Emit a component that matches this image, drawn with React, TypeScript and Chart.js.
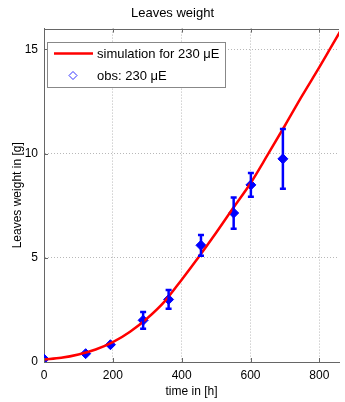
import React, { useEffect, useRef } from "react";
import { Chart, registerables } from "chart.js";

Chart.register(...registerables);

const simX = [0, 50, 100, 150, 200, 250, 300, 350, 400, 450, 500, 550, 600, 650, 700, 750, 800, 830, 860];
const simY = [0.12, 0.2, 0.36, 0.6, 0.95, 1.45, 2.1, 2.9, 3.95, 5.05, 6.2, 7.4, 8.58, 9.95, 11.35, 12.78, 14.15, 15.0, 15.85];

const obsX = [0, 121, 193, 288, 362, 456, 551, 601, 694];
const obsY = [0.14, 0.4, 0.83, 2.0, 3.0, 5.6, 7.15, 8.5, 9.75];
const obsErr = [0, 0, 0, 0.4, 0.45, 0.5, 0.75, 0.57, 1.43];

const xTicks = [0, 200, 400, 600, 800];
const yTicks = [0, 5, 10, 15];

const titleText = "Leaves weight";
const xTitle = "time in [h]";
const yTitle = "Leaves weight in [g]";
const legendLabels = ["simulation for 230 \u03bcE", "obs: 230 \u03bcE"];

const FONT = "'Liberation Sans', Arial, Helvetica, sans-serif";

const decorPlugin = {
  id: "decor",
  afterDatasetsDraw(chart: any) {
    const ctx = chart.ctx;
    const xs = chart.scales.x;
    const ys = chart.scales.y;
    ctx.save();
    ctx.strokeStyle = "#0000ff";
    ctx.lineWidth = 2.5;
    for (let i = 0; i < obsX.length; i++) {
      const e = obsErr[i];
      if (!e) continue;
      const px = xs.getPixelForValue(obsX[i]);
      const top = ys.getPixelForValue(obsY[i] + e);
      const bot = ys.getPixelForValue(obsY[i] - e);
      ctx.beginPath();
      ctx.moveTo(px, top);
      ctx.lineTo(px, bot);
      ctx.moveTo(px - 3, top);
      ctx.lineTo(px + 3, top);
      ctx.moveTo(px - 3, bot);
      ctx.lineTo(px + 3, bot);
      ctx.stroke();
    }
    ctx.restore();
  },
  afterDraw(chart: any) {
    const ctx = chart.ctx;
    const a = chart.chartArea;
    const xs = chart.scales.x;
    const ys = chart.scales.y;
    ctx.save();
    // top border
    ctx.strokeStyle = "#666";
    ctx.lineWidth = 1;
    ctx.beginPath();
    ctx.moveTo(a.left, Math.round(a.top) + 0.5);
    ctx.lineTo(a.right, Math.round(a.top) + 0.5);
    ctx.stroke();
    // inward ticks
    ctx.beginPath();
    for (const t of xTicks) {
      const px = Math.round(xs.getPixelForValue(t)) + 0.5;
      ctx.moveTo(px, a.bottom);
      ctx.lineTo(px, a.bottom - 4);
      ctx.moveTo(px, a.top);
      ctx.lineTo(px, a.top + 4);
    }
    for (const t of yTicks) {
      const py = Math.round(ys.getPixelForValue(t)) + 0.5;
      ctx.moveTo(a.left, py);
      ctx.lineTo(a.left + 4, py);
    }
    ctx.stroke();

    // legend
    const lx = 47, ly = 42, lw = 178, lh = 45;
    ctx.fillStyle = "#ffffff";
    ctx.fillRect(lx, ly, lw, lh);
    ctx.strokeStyle = "#888";
    ctx.lineWidth = 1;
    ctx.strokeRect(lx + 0.5, ly + 0.5, lw, lh);
    ctx.strokeStyle = "#ff0000";
    ctx.lineWidth = 2.5;
    ctx.beginPath();
    ctx.moveTo(54, 53.5);
    ctx.lineTo(93, 53.5);
    ctx.stroke();
    // hollow diamond
    ctx.strokeStyle = "#3333ff";
    ctx.lineWidth = 1;
    const dx = 73, dy = 75.5, r = 4;
    ctx.beginPath();
    ctx.moveTo(dx - r, dy);
    ctx.lineTo(dx, dy - r);
    ctx.lineTo(dx + r, dy);
    ctx.lineTo(dx, dy + r);
    ctx.closePath();
    ctx.stroke();
    ctx.fillStyle = "#000";
    ctx.font = `13px ${FONT}`;
    ctx.textBaseline = "middle";
    ctx.textAlign = "left";
    ctx.fillText(legendLabels[0], 97, 54);
    ctx.fillText(legendLabels[1], 97, 76);
    ctx.restore();
  },
};

export default function App() {
  const ref = useRef<HTMLCanvasElement | null>(null);
  useEffect(() => {
    if (!ref.current) return;
    const chart = new Chart(ref.current, {
      type: "line",
      data: {
        datasets: [
          {
            label: legendLabels[0],
            data: simX.map((x, i) => ({ x, y: simY[i] })),
            borderColor: "#ff0000",
            borderWidth: 2.5,
            pointRadius: 0,
            cubicInterpolationMode: "monotone",
            fill: false,
          },
          {
            label: legendLabels[1],
            data: obsX.map((x, i) => ({ x, y: obsY[i] })),
            showLine: false,
            pointStyle: "rectRot",
            pointRadius: 5,
            pointBackgroundColor: "#0000ff",
            pointBorderColor: "#0000ff",
            pointBorderWidth: 1,
          },
        ],
      },
      options: {
        animation: false,
        responsive: true,
        maintainAspectRatio: false,
        layout: { padding: { left: 0, right: 0, top: 0, bottom: 0 } },
        plugins: {
          legend: { display: false },
          tooltip: { enabled: false },
          title: {
            display: true,
            text: titleText,
            color: "#000",
            font: { family: FONT, size: 13, weight: "normal" },
            padding: { top: 6, bottom: 7 },
          },
        },
        scales: {
          x: {
            type: "linear",
            min: 0,
            max: 857,
            afterBuildTicks: (s: any) => {
              s.ticks = xTicks.map((v) => ({ value: v }));
            },
            afterFit: (s: any) => {
              s.height = 40;
            },
            ticks: {
              color: "#000",
              font: { family: FONT, size: 12 },
              padding: 6,
              maxRotation: 0,
            },
            grid: { color: "#b8b8b8", lineWidth: 1, drawTicks: false },
            border: { display: true, color: "#666", width: 1, dash: [1, 2] },
            title: {
              display: true,
              text: xTitle,
              color: "#000",
              font: { family: FONT, size: 12 },
              padding: { top: 0, bottom: 3 },
            },
          },
          y: {
            type: "linear",
            min: 0,
            max: 16,
            afterBuildTicks: (s: any) => {
              s.ticks = yTicks.map((v) => ({ value: v }));
            },
            afterFit: (s: any) => {
              s.width = 44;
            },
            ticks: {
              color: "#000",
              font: { family: FONT, size: 12 },
              padding: 6,
            },
            grid: { color: "#b8b8b8", lineWidth: 1, drawTicks: false },
            border: { display: true, color: "#666", width: 1, dash: [1, 2] },
            title: {
              display: true,
              text: yTitle,
              color: "#000",
              font: { family: FONT, size: 12 },
              padding: { top: 10, bottom: 0 },
            },
          },
        },
      },
      plugins: [decorPlugin],
    });
    return () => chart.destroy();
  }, []);
  return (
    <div style={{ position: "fixed", left: 0, top: 0, width: 345, height: 402, background: "#fff" }}>
      <canvas ref={ref} />
    </div>
  );
}
